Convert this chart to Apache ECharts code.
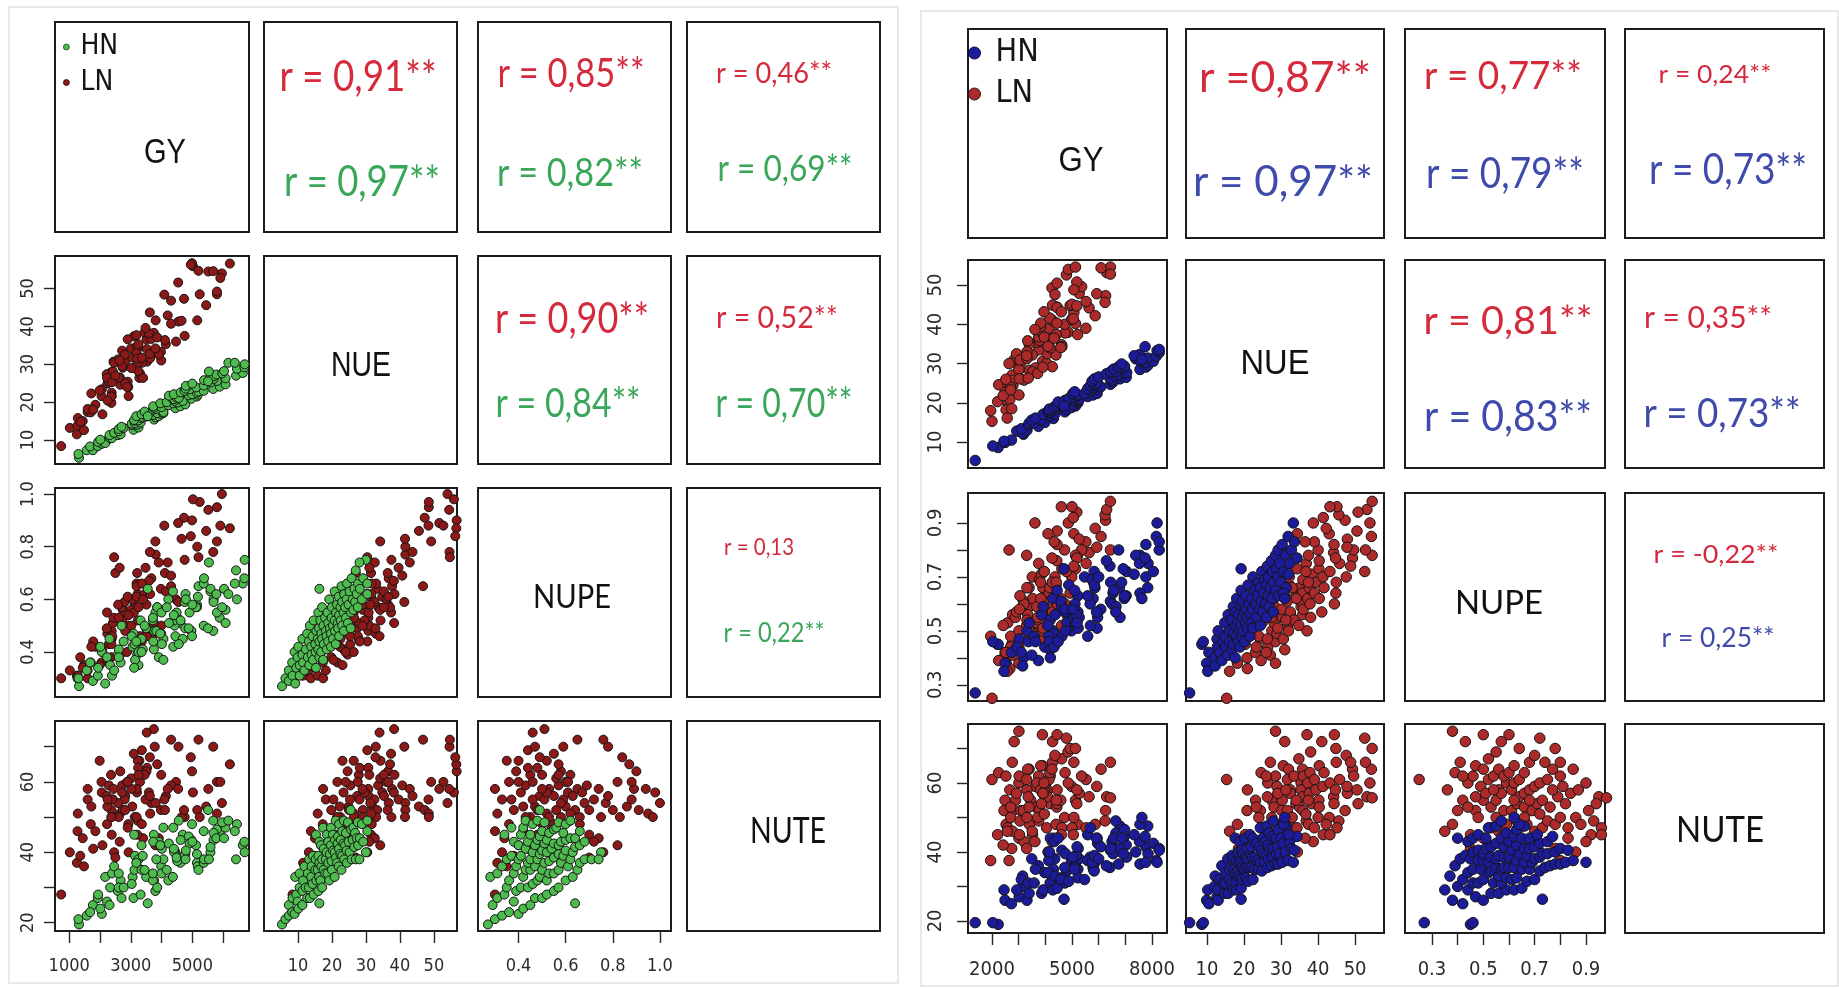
<!DOCTYPE html>
<html>
<head>
<meta charset="utf-8">
<script src="https://cdn.jsdelivr.net/npm/echarts@6/dist/echarts.min.js"></script>
<style>
html,body{margin:0;padding:0;background:#fff}
#chart{width:1839px;height:988px}
</style>
</head>
<body>
<div id="chart"></div>
<script>
// Variables measured on every plot: GY, NUE, NUPE, NUTE
const variables = ['GY', 'NUE', 'NUPE', 'NUTE'];
const groups = ['HN', 'LN'];

// Observations, one row per plot: [GY, NUE, NUPE, NUTE]
const leftHN = [
[1320,5.3,.27,19.5],[1300,6.3,.30,21],[1570,7.3,.33,22],[1770,7.3,.29,25],[1680,8.3,.36,23],[1930,8.4,.31,27],[2060,9.0,.40,22.5],[1940,9.5,.34,28],[2230,9.9,.38,26],[2170,9.2,.28,33],
[2010,10.1,.42,24],[2330,10.5,.35,30],[2390,10.5,.31,34],[2310,11.3,.45,25],[2580,11.3,.39,29],[2670,11.5,.36,32],[2460,11.9,.33,36],[2610,12.3,.41,30],[3090,12.7,.47,27],[2610,12.9,.38,34],
[2770,13.2,.44,30],[3250,13.3,.35,38],[2700,13.5,.50,27],[3060,13.9,.42,33],[3210,14.0,.39,36],[3030,14.3,.46,31],[3140,14.4,.37,39],[3320,14.6,.52,28],[3120,15.1,.43,35],[3250,15.2,.40,38],
[3760,15.4,.48,32],[3110,15.3,.34,45],[3350,15.8,.45,35],[3800,16.0,.55,29],[3390,16.0,.41,39],[3500,16.2,.49,33],[3910,16.3,.38,43],[3180,16.3,.44,37],[3720,16.6,.52,32],[3990,16.9,.47,36],
[3350,16.8,.40,42],[3860,17.1,.57,30],[4060,17.1,.45,38],[3450,17.5,.50,35],[4010,17.6,.43,41],[4060,17.4,.37,47],[3720,18.0,.53,34],[3830,18.2,.48,38],[4450,18.4,.46,40],[3750,18.5,.41,45],
[4000,18.7,.55,34],[4610,18.9,.51,37],[3730,18.9,.44,43],[4220,19.2,.60,32],[4770,19.4,.49,39.5],[3960,19.7,.47,42],[4380,19.7,.42,47],[4510,19.9,.53,37.5],[4170,20.0,.57,35],[4420,20.3,.50,40.5],
[4690,20.3,.45,45],[4370,20.8,.63,33],[4410,20.8,.52,40],[4970,20.9,.48,43.5],[4490,21.2,.55,38.5],[4560,21.1,.43,49],[5150,21.5,.58,37],[4240,21.7,.51,42.5],[4880,21.8,.49,44.5],[5180,22.0,.61,36],
[4400,22.1,.54,41],[4990,22.1,.46,48],[5150,22.5,.57,39.5],[4620,22.6,.52,43.5],[5200,22.8,.65,35],[5370,23.0,.50,46],[4750,23.0,.59,39],[4910,23.4,.55,42.5],[5680,23.5,.48,49],[4780,23.6,.62,38],
[5120,23.9,.57,42],[5890,24.1,.53,45.5],[4790,24.3,.60,40.5],[5370,24.4,.66,37],[6080,24.7,.51,48.5],[5000,24.9,.58,43],[5590,25.2,.63,40],[5800,25.6,.55,46.5],[5380,25.8,.68,38],[5690,26.1,.60,43.5],
[6080,26.3,.56,47],[5590,26.6,.64,41.5],[5690,26.8,.59,45.5],[6420,27.0,.71,38],[5780,27.3,.62,44],[5970,27.6,.57,48.5],[6640,27.7,.66,42],[6030,28.2,.64,44],[6450,28.8,.60,48],[6690,29.2,.68,43],
[6170,30.4,.62,49],[6380,30.4,.66,46],[6700,30.0,.75,40],[5540,28.1,.74,38],[3550,16.3,.64,25.5],[5510,25.5,.49,52]
];
const leftLN = [
[740,8.4,.30,28],[1250,11.5,.31,37],[1020,13.2,.33,40],[1270,13.8,.30,46],[1480,12.6,.35,36],[1280,15.8,.31,51],[1440,15.0,.34,44],[1600,17.4,.30,58],[1360,14.8,.38,39],[1700,17.3,.36,48],
[2080,16.8,.40,42],[1600,18.2,.33,55],[1850,19.3,.42,46],[2370,19.8,.38,52],[1780,18.0,.44,41],[2050,21.6,.36,60],[2380,22.5,.45,50],[2060,23.4,.41,57],[2380,21.6,.48,45],[2660,24.6,.39,63],
[2240,24.9,.47,53],[2290,25.4,.43,59],[2920,24.0,.50,48],[2360,27.9,.45,62],[2650,26.5,.52,51],[3280,26.4,.40,66],[2220,27.4,.49,56],[2900,25.4,.54,47],[3300,27.6,.46,60],[2420,28.1,.51,55],
[2740,29.1,.56,52],[3530,30.7,.48,64],[2440,30.7,.53,58],[3130,29.0,.58,50],[3360,30.4,.44,69],[2820,30.8,.55,56],[3050,31.8,.60,53],[3990,31.0,.50,62],[2720,33.6,.57,59],[3220,30.4,.62,49],
[3780,32.9,.47,70],[2800,32.5,.59,55],[3230,34.3,.52,66],[3980,33.3,.64,52],[3010,34.2,.56,61],[3200,34.8,.61,57],[3750,38.3,.51,75],[3190,33.0,.66,50],[3510,36.5,.58,63],[4140,35.3,.63,56],
[3100,37.4,.55,68],[3670,36.7,.68,54],[4470,36.0,.60,60],[3190,37.7,.65,58],[3860,37.1,.57,65],[4110,36.4,.70,52],[3450,38.4,.62,62],[3590,38.2,.67,57],[4550,41.3,.59,70],[3480,39.6,.72,55],
[4310,40.7,.69,59],[4750,37.5,.75,50],[3810,41.6,.77,54],[4200,42.9,.74,58],[5160,41.6,.80,52],[3620,43.7,.78,56],[4650,41.5,.83,50],[5450,45.6,.86,53],[4090,48.4,.88,55],[4730,47.3,.91,52],
[5800,48.5,.95,51],[4540,51.6,.89,58],[5240,48.5,.97,50],[5960,54.0,1.0,54],[5020,55.9,.98,57],[4990,56.7,.90,63],[6220,56.6,.87,65],[5520,54.5,.94,58],[5800,49.2,.82,60],[5680,54.6,.78,70],
[4950,56.3,.84,67],[4310,46.8,.65,72],[3400,26.4,.60,44],[3210,31.5,.70,45],[3910,32.6,.74,44],[2930,21.6,.54,40],[1720,22.3,.42,53],[1990,23.1,.35,66],[3520,34.0,.46,74],[5200,54.7,.76,72],
[5910,52.8,.88,60],[2820,25.0,.48,52],[2230,26.4,.55,48],[2720,29.6,.52,57],[3240,28.2,.44,64],[2590,31.3,.58,54],[3020,29.0,.50,58],[3630,31.6,.62,51],[2400,25.3,.46,55],[3250,35.3,.57,62],
[2880,24.0,.40,60],[2610,26.5,.53,50],[3360,31.7,.66,48],[3620,32.8,.49,67],[2900,36.6,.61,60],[2370,21.5,.43,50],[2250,20.4,.37,55],[2460,30.4,.76,40],[2500,27.0,.70,38.5],[3800,34.2,.82,42],
[2640,31.0,.72,43]
];
const rightHN = [
[1370,5.3,.27,19.5],[2230,8.6,.45,19],[2030,9.0,.46,19.5],[2490,9.9,.38,26],[2730,10.5,.42,25],[2450,10.2,.35,29],[3020,12.7,.47,27],[3180,12.0,.40,30],[2930,12.8,.44,29],[3150,12.2,.37,33],
[3310,13.0,.50,26],[3100,13.4,.42,32],[3370,14.3,.46,31],[3740,14.0,.39,36],[3390,14.8,.53,28],[3580,14.9,.48,31],[3980,15.0,.44,34],[3490,15.6,.41,38],[3860,15.7,.56,28],[4300,16.0,.50,32],
[3630,16.1,.46,35],[4170,16.8,.43,39],[4180,16.7,.54,31],[3920,17.1,.59,29],[4300,17.2,.49,35],[4350,17.1,.45,38],[4090,17.7,.52,34],[4190,17.6,.40,44],[4730,17.7,.57,31],[4130,18.0,.48,37.5],
[4280,18.0,.62,29],[4810,18.3,.53,34.5],[4150,18.4,.46,40],[4370,18.5,.56,33],[4980,18.8,.50,37.5],[4330,18.9,.44,43],[4610,19.2,.59,32.5],[5130,19.2,.52,37],[4440,19.2,.65,29.5],[4620,19.4,.48,40.5],
[5050,19.5,.55,35.5],[4590,19.5,.61,32],[4750,19.8,.50,39.5],[5220,20.0,.57,35],[4480,20.2,.46,44],[5140,20.4,.53,38.5],[5220,20.5,.63,32.5],[4730,20.6,.58,35.5],[5230,20.9,.51,41],[5270,20.9,.55,38],
[4880,21.1,.67,31.5],[5110,21.3,.60,35.5],[5590,21.6,.48,45],[5160,21.8,.56,39],[5190,22.0,.53,41.5],[5790,22.0,.62,35.5],[5030,22.3,.58,38.5],[5470,22.4,.70,32],[5940,22.4,.51,44],[5100,22.8,.65,35],
[5680,23.1,.60,38.5],[5960,23.4,.55,42.5],[5590,23.6,.63,37.5],[5810,23.8,.68,35],[6080,24.1,.58,41.5],[5690,24.4,.52,47],[5860,24.4,.66,37],[6440,24.7,.61,40.5],[5830,24.8,.72,34.5],[5920,25.1,.57,44],
[6540,25.3,.64,39.5],[5750,25.5,.69,37],[6500,25.8,.60,43],[6800,26.1,.55,47.5],[5840,26.1,.67,39],[6420,26.3,.74,35.5],[7030,26.5,.63,42],[6000,26.6,.70,38],[6650,26.8,.59,45.5],[6780,27.1,.66,41],
[6290,27.4,.76,36],[6960,27.6,.62,44.5],[7050,27.7,.72,38.5],[6450,27.9,.68,41],[6640,27.9,.57,49],[7550,28.5,.78,36.5],[6560,28.6,.65,44],[6920,28.8,.73,39.5],[7770,29.1,.70,41.5],[6750,29.2,.80,36.5],
[6970,29.3,.63,46.5],[7850,29.6,.75,39.5],[6860,29.9,.68,44],[7770,30.3,.82,37],[8050,30.6,.72,42.5],[7390,31.2,.78,40],[7840,31.4,.66,47.5],[8160,31.9,.85,37.5],[7530,32.3,.75,43],[8270,32.8,.80,41],
[8190,33.3,.90,37],[7740,34.3,.77,44.5],[8270,33.6,.83,40.5],[7550,30.7,.64,48],[7330,32.0,.71,45],[4700,19.2,.73,26.3],[7620,31.0,.62,50]
];
const rightLN = [
[2000,15.3,.25,61],[2530,18.2,.38,48],[1950,18.0,.48,37.5],[2450,20.8,.40,52],[2670,20.9,.36,58],[2210,20.3,.45,45],[2490,23.1,.42,55],[3010,22.0,.50,44],[2250,24.6,.39,63],[2780,24.4,.47,52],
[3010,26.4,.44,60],[2590,24.9,.53,47],[2760,27.1,.41,66],[3450,27.5,.50,55],[2770,25.8,.56,46],[3020,28.5,.46,62],[3650,28.1,.53,53],[2830,31.0,.43,72],[3400,28.3,.59,48],[3630,28.9,.49,59],
[2880,30.3,.55,55],[3520,27.9,.62,45],[3900,30.6,.47,65],[3080,30.2,.58,52],[3300,31.7,.52,61],[4050,30.1,.64,47],[3010,28.5,.38,75],[3890,37.0,.50,74],[4070,32.5,.56,58],[3180,31.7,.61,52],
[3390,32.0,.50,64],[4400,32.2,.67,48],[2920,32.5,.57,57],[3750,33.5,.54,62],[4180,34.0,.63,54],[3510,32.2,.70,46],[3680,35.4,.59,60],[4610,34.8,.52,67],[3390,35.0,.66,53],[3960,35.4,.61,58],
[4620,34.3,.73,47],[3340,35.8,.56,64],[4080,35.8,.64,56],[4180,36.0,.58,62],[3780,35.9,.69,52],[4020,37.2,.62,60],[4850,38.0,.55,69],[3750,36.8,.75,49],[3910,37.6,.66,57],[4740,37.8,.60,63],
[3850,38.3,.71,54],[4140,39.0,.64,61],[5210,37.4,.78,48],[3820,39.4,.68,58],[4270,41.0,.57,72],[5130,40.2,.73,55],[3830,40.3,.62,65],[4720,40.0,.80,50],[4990,41.3,.70,59],[4170,41.6,.66,63],
[4430,40.3,.76,53],[5520,39.0,.83,47],[3950,43.2,.72,60],[4440,44.4,.60,74],[5640,44.2,.79,56],[4270,44.9,.68,66],[5070,43.0,.86,50],[5530,45.8,.75,61],[4440,44.3,.82,54],[4930,44.8,.64,70],
[5870,42.2,.88,48],[4250,49.3,.77,64],[5270,47.9,.84,57],[6260,47.3,.91,52],[4360,47.6,.70,68],[5360,49.6,.80,62],[6240,45.6,.93,49],[4440,50.5,.87,58],[4790,52.6,.72,73],[6300,53.2,.95,56],
[4860,54.0,.90,60],[6440,54.6,.98,55.7],[5180,50.8,.94,54],[6090,54.4,.85,64],[5130,54.6,.78,70],[5000,45.1,.96,47],[5050,41.4,.92,45],[2740,18.5,.45,41],[2420,21.8,.52,42],[3200,25.8,.60,43],
[4260,29.2,.68,43],[2700,24.0,.48,50],[2700,23.3,.44,53],[3710,27.5,.55,50],[3050,30.9,.63,49],[3030,26.1,.58,45],[3910,29.1,.51,57],[3310,33.0,.66,50],[3960,36.7,.72,51],[4580,34.1,.62,55],
[3310,31.3,.54,58],[4410,37.4,.68,55],[3360,26.3,.47,56],[2520,26.0,.42,62],[5180,44.7,.77,58],[5930,47.8,.81,59],[5070,48.8,.74,66],[6440,52.8,.80,66],[2570,16.1,.35,46],[2640,30.0,.80,37.5],
[3300,32.0,.78,41],[4100,34.4,.86,40],[3610,38.7,.90,43],[4600,43.2,.96,45],[4330,36.5,.83,44]
];

// Correlation labels for the upper cells (1,2),(1,3),(1,4),(2,3),(2,4),(3,4)
const leftCorrLN  = ['r = 0,91**', 'r = 0,85**', 'r = 0,46**', 'r = 0,90**', 'r = 0,52**', 'r = 0,13'];
const leftCorrHN  = ['r = 0,97**', 'r = 0,82**', 'r = 0,69**', 'r = 0,84**', 'r = 0,70**', 'r = 0,22**'];
const rightCorrLN = ['r =0,87**', 'r = 0,77**', 'r = 0,24**', 'r = 0,81**', 'r = 0,35**', 'r = -0,22**'];
const rightCorrHN = ['r = 0,97**', 'r = 0,79**', 'r = 0,73**', 'r = 0,83**', 'r = 0,73**', 'r = 0,25**'];

// Tick positions and tick labels
const gyTicksL = [1000, 2000, 3000, 4000, 5000, 6000];
const gyLabelsL = ['1000', '3000', '5000'];
const nueTicksL = [10, 20, 30, 40, 50];
const nueLabelsL = ['10', '20', '30', '40', '50'];
const nupeTicksL = [0.4, 0.6, 0.8, 1.0];
const nupeLabelsL = ['0.4', '0.6', '0.8', '1.0'];
const nuteTicksL = [20, 30, 40, 50, 60, 70];
const nuteLabelsL = ['20', '40', '60'];

const gyTicksR = [2000, 3000, 4000, 5000, 6000, 7000, 8000];
const gyLabelsR = ['2000', '5000', '8000'];
const nueTicksR = [10, 20, 30, 40, 50];
const nueLabelsR = ['10', '20', '30', '40', '50'];
const nupeTicksR = [0.3, 0.4, 0.5, 0.6, 0.7, 0.8, 0.9];
const nupeLabelsR = ['0.3', '0.5', '0.7', '0.9'];
const nuteTicksR = [20, 30, 40, 50, 60, 70];
const nuteLabelsR = ['20', '40', '60'];

// ---- layout and styling ----
const tickFamily = '"Liberation Sans Narrow", "DejaVu Sans Condensed", "Liberation Sans", sans-serif';

const layoutL = {
  cols: [[55, 249], [264, 457], [478, 671], [687, 880]],
  rows: [[22, 232], [256, 464], [488, 697], [721, 931]],
  xRange: [[539, 6841], [0, 56.8], [0.228, 1.047], null],
  yRange: [null, [3.67, 58.6], [0.229, 1.023], [17.64, 77.3]],
  symbolSize: 9, tickFont: 18, yLabelMargin: 18, xLabelMargin: 26,
  fills: { HN: '#4dbb4d', LN: '#8d1818' }
};
const layoutR = {
  cols: [[968, 1167], [1186, 1384], [1405, 1605], [1625, 1824]],
  rows: [[29, 238], [260, 468], [493, 701], [724, 933]],
  xRange: [[1100, 8562], [4.32, 57.8], [0.195, 0.974], null],
  yRange: [null, [3.38, 56.4], [0.24, 1.011], [16.5, 77.1]],
  symbolSize: 10.5, tickFont: 20, yLabelMargin: 22, xLabelMargin: 27,
  fills: { HN: '#1c1c9a', LN: '#ad2a2a' }
};

const textRed = '#d42a3c', textGreen = '#3aa65a', textBlue = '#3f4bab';

// [centerX, centerY, digit height, width] of the LN and HN labels in each upper cell
const corrSpotsL = [
  [[358, 75, 30, 157], [362, 180, 30, 156]],
  [[571, 72, 29, 147], [570, 171, 28, 146]],
  [[774, 72, 21, 116], [785, 167, 27, 135]],
  [[572, 317, 30, 154], [568, 402, 29, 145]],
  [[777, 316, 22, 122], [784, 402, 29, 137]],
  [[759, 546, 17, 70], [774, 632, 19, 101]]
];
const corrSpotsR = [
  [[1285, 76, 30, 172], [1283, 180, 30, 180]],
  [[1503, 74, 28, 158], [1505, 172, 30, 158]],
  [[1715, 73, 18, 113], [1728, 168, 30, 158]],
  [[1508, 319, 28, 169], [1508, 415, 30, 168]],
  [[1708, 316, 22, 128], [1722, 412, 29, 157]],
  [[1716, 553, 18, 125], [1718, 637, 19, 113]]
];
// variable names on the diagonal
const diagSpotsL = [[165, 151, 25, 42], [361, 364, 25, 60], [572, 596, 23, 78], [788, 829, 26, 76]];
const diagSpotsR = [[1081, 159, 25, 45], [1275, 362, 25, 69], [1499, 602, 23, 88], [1720, 828, 27, 88]];

const measureCtx = document.createElement('canvas').getContext('2d');
function fittedText(text, spot, family, capRatio, color) {
  const [cx, cy, h, w] = spot;
  const size = h / capRatio;
  const font = size.toFixed(1) + 'px ' + family;
  measureCtx.font = font;
  const natural = measureCtx.measureText(text).width || w;
  return {
    type: 'text', x: cx, y: cy + 0.06 * size, scaleX: w / natural, silent: true, z: 10,
    style: { text: text, font: font, fill: color, align: 'center', verticalAlign: 'middle',
             textAlign: 'center', textVerticalAlign: 'middle' }
  };
}

function labelFor(labels, v) {
  const hit = labels.find(l => Math.abs(parseFloat(l) - v) < 1e-9);
  return hit === undefined ? '' : hit;
}

const option = {
  backgroundColor: '#ffffff',
  animation: false,
  grid: [], xAxis: [], yAxis: [], series: [], graphic: [], legend: []
};

function addMatrix(cfg, obsHN, obsLN, ticks, labels) {
  const n = variables.length;
  for (let r = 0; r < n; r++) {
    for (let c = 0; c < n; c++) {
      const gi = option.grid.length;
      option.grid.push({
        left: cfg.cols[c][0], top: cfg.rows[r][0],
        width: cfg.cols[c][1] - cfg.cols[c][0], height: cfg.rows[r][1] - cfg.rows[r][0],
        show: true, borderColor: '#1c1c1c', borderWidth: 2, backgroundColor: 'rgba(0,0,0,0)'
      });
      if (r > c) {
        option.xAxis.push({
          gridIndex: gi, type: 'value', min: cfg.xRange[c][0], max: cfg.xRange[c][1],
          axisLine: { show: false }, splitLine: { show: false },
          axisTick: { show: r === n - 1, length: 12, lineStyle: { color: '#262626', width: 1.4 }, customValues: ticks[c] },
          axisLabel: {
            show: r === n - 1, customValues: labels[c].map(Number), formatter: v => labelFor(labels[c], v),
            margin: cfg.xLabelMargin, fontSize: cfg.tickFont, fontFamily: tickFamily, color: '#2b2b2b'
          }
        });
        option.yAxis.push({
          gridIndex: gi, type: 'value', min: cfg.yRange[r][0], max: cfg.yRange[r][1],
          axisLine: { show: false }, splitLine: { show: false },
          axisTick: { show: c === 0, length: 11, lineStyle: { color: '#262626', width: 1.4 }, customValues: ticks[r] },
          axisLabel: {
            show: c === 0, rotate: 90, customValues: labels[r].map(Number), formatter: v => labelFor(labels[r], v),
            margin: cfg.yLabelMargin, fontSize: cfg.tickFont, fontFamily: tickFamily, color: '#2b2b2b'
          }
        });
        const xi = option.xAxis.length - 1, yi = option.yAxis.length - 1;
        [[groups[1], obsLN], [groups[0], obsHN]].forEach(([name, obs]) => {
          option.series.push({
            type: 'scatter', name: name, xAxisIndex: xi, yAxisIndex: yi,
            data: obs.map(o => [o[c], o[r]]),
            symbol: 'circle', symbolSize: cfg.symbolSize, clip: false, silent: true,
            itemStyle: { color: cfg.fills[name], borderColor: '#151515', borderWidth: 1, opacity: 1 }
          });
        });
      } else {
        option.xAxis.push({ gridIndex: gi, type: 'value', show: false, min: 0, max: 1 });
        option.yAxis.push({ gridIndex: gi, type: 'value', show: false, min: 0, max: 1 });
      }
    }
  }
}

addMatrix(layoutL, leftHN, leftLN,
  [gyTicksL, nueTicksL, nupeTicksL, nuteTicksL],
  [gyLabelsL, nueLabelsL, nupeLabelsL, nuteLabelsL]);
addMatrix(layoutR, rightHN, rightLN,
  [gyTicksR, nueTicksR, nupeTicksR, nuteTicksR],
  [gyLabelsR, nueLabelsR, nupeLabelsR, nuteLabelsR]);

// light frames around the two panels
option.graphic.push(
  { type: 'rect', shape: { x: 9, y: 7, width: 889, height: 976 }, style: { fill: 'none', stroke: '#e9e9e9', lineWidth: 2 }, silent: true, z: 0 },
  { type: 'rect', shape: { x: 921, y: 11, width: 917, height: 975 }, style: { fill: 'none', stroke: '#e9e9e9', lineWidth: 2 }, silent: true, z: 0 }
);

// correlation coefficients
const lato = 'Lato, "Open Sans", sans-serif';
corrSpotsL.forEach((pair, i) => {
  option.graphic.push(fittedText(leftCorrLN[i], pair[0], lato, 0.72, textRed));
  option.graphic.push(fittedText(leftCorrHN[i], pair[1], lato, 0.72, textGreen));
});
corrSpotsR.forEach((pair, i) => {
  option.graphic.push(fittedText(rightCorrLN[i], pair[0], lato, 0.72, textRed));
  option.graphic.push(fittedText(rightCorrHN[i], pair[1], lato, 0.72, textBlue));
});

// variable names on the diagonal
const arial = '"Liberation Sans", Arial, sans-serif';
[[diagSpotsL], [diagSpotsR]].forEach(([spots]) => {
  spots.forEach((spot, i) => {
    const fam = i < 2 ? arial : lato;
    const ratio = i < 2 ? 0.716 : 0.72;
    option.graphic.push(fittedText(variables[i], spot, fam, ratio, '#111111'));
  });
});

// legends
option.legend.push({
  left: 63, top: 32, padding: 0, orient: 'vertical', selectedMode: false,
  itemWidth: 18, itemHeight: 6, itemGap: 5.5, icon: 'circle',
  textStyle: { fontSize: 28, lineHeight: 30, fontFamily: tickFamily, color: '#151515' },
  data: [
    { name: groups[0], itemStyle: { color: layoutL.fills.HN, borderColor: '#1e4d1e', borderWidth: 0.8 } },
    { name: groups[1], itemStyle: { color: layoutL.fills.LN, borderColor: '#2a0808', borderWidth: 0.8 } }
  ]
});
option.legend.push({
  left: 968, top: 36, padding: 0, orient: 'vertical', selectedMode: false,
  itemWidth: 32, itemHeight: 12, itemGap: 7, icon: 'circle',
  textStyle: { fontSize: 32, lineHeight: 34, fontFamily: tickFamily, color: '#151515' },
  data: [
    { name: groups[0], itemStyle: { color: layoutR.fills.HN, borderColor: '#0c0c40', borderWidth: 1 } },
    { name: groups[1], itemStyle: { color: layoutR.fills.LN, borderColor: '#3a0d0d', borderWidth: 1 } }
  ]
});

const chart = echarts.init(document.getElementById('chart'), null, { renderer: 'canvas', width: 1839, height: 988 });
chart.setOption(option);
</script>
</body>
</html>
